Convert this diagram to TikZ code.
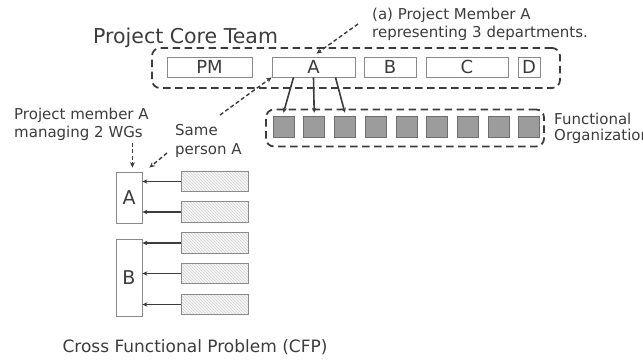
\documentclass[tikz,border=0pt]{standalone}
\usepackage{fontspec}
\setmainfont{DejaVu Sans}
\usetikzlibrary{arrows.meta,patterns,calc}
\definecolor{ink}{HTML}{3C3C3C}
\definecolor{edge}{HTML}{8A8A8A}
\definecolor{unit}{HTML}{9C9C9C}
\begin{document}
\begin{tikzpicture}[x=1pt,y=-1pt,
  every node/.style={text=ink, inner sep=0pt},
  group/.style={draw=ink, line width=1.8pt, dash pattern=on 7.5pt off 4.5pt, rounded corners=8pt},
  member/.style={draw=edge, line width=0.8pt, fill=white, font=\fontsize{18}{18}\selectfont},
  funit/.style={draw=edge!80!black, line width=0.6pt, fill=unit, minimum width=21pt, minimum height=21pt},
  wg/.style={draw=edge, line width=0.8pt, fill=white, minimum width=26pt, font=\fontsize{19}{19}\selectfont},
  task/.style={draw=edge, line width=0.8pt, preaction={fill=gray!7}, pattern=north west lines, pattern color=gray!35, minimum width=67pt, minimum height=20.5pt},
  note/.style={font=\fontsize{15}{18}\selectfont, align=left},
  pointer/.style={draw=ink, line width=1.4pt, dash pattern=on 4pt off 2.5pt, -{Stealth[length=5.5pt,width=5pt]}},
  link/.style={draw=ink, line width=1.6pt, -{Stealth[length=5pt,width=4.5pt]}}]
\useasboundingbox (0,0) rectangle (643,360);

% project core team
\node[anchor=base west, font=\fontsize{20.5}{21}\selectfont] (title) at (93,43) {Project Core Team};
\node[group, minimum width=408pt, minimum height=40pt] (core) at (356,68) {};
\node[member, minimum width=85pt, minimum height=20pt] (PM) at (209.5,67) {PM};
\node[member, minimum width=83pt, minimum height=20pt] (A) at (313.5,67) {A};
\node[member, minimum width=52pt, minimum height=20pt] (B) at (390,67) {B};
\node[member, minimum width=82pt, minimum height=20pt] (C) at (467,67) {C};
\node[member, minimum width=22pt, minimum height=20pt] (D) at (529,67) {D};

% functional organization
\node[group, minimum width=278pt, minimum height=37pt] (func) at (405,128) {};
\foreach \i in {1,...,9} {
  \node[funit] (s\i) at ({283.5+30.7*(\i-1)},126.5) {};
}
\node[note, anchor=west, font=\fontsize{15}{16}\selectfont] (funclabel) at (554,128) {Functional\\Organization};

% annotation for member A
\node[note, anchor=west] (noteA) at (372,24) {(a) Project Member A\\representing 3 departments.};
\coordinate (noteAtip) at (358,24);
\draw[pointer] (noteAtip) -- ($(A.north)+(3,-3)$);

\draw[link] ($(A.south)+(-20,0)$) -- ($(s1.north)+(0,-3)$);
\draw[link] (A.south) -- ($(s2.north)+(0,-3)$);
\draw[link] ($(A.south)+(22,0)$) -- ($(s3.north)+(0,-3)$);

% working groups
\node[note, anchor=west] (mgr) at (14,124) {Project member A\\managing 2 WGs};
\node[note, anchor=west, font=\fontsize{15}{19}\selectfont] (same) at (175,140.5) {Same\\person A};
\coordinate (sametop) at (220,115);
\coordinate (samelow) at (167,153);

\node[wg, minimum height=51pt] (wgA) at (129,197.5) {A};
\node[wg, minimum height=77pt] (wgB) at (129,277.5) {B};

\draw[pointer] (sametop) -- (A.south west);
\draw[pointer] (samelow) -- ($(wgA.north east)+(7,-4)$);
\draw[pointer] ($(wgA.north east)+(-10,-29)$) -- ($(wgA.north east)+(-10,-4)$);

\node[task] (t1) at (214.5,181.5) {};
\node[task] (t2) at (214.5,212) {};
\node[task] (t3) at (214.5,243) {};
\node[task] (t4) at (214.5,273.5) {};
\node[task] (t5) at (214.5,304.5) {};

\draw[link] (t1.west) -- (t1.west -| wgA.east);
\draw[link] (t2.west) -- (t2.west -| wgA.east);
\draw[link] (t3.west) -- (t3.west -| wgB.east);
\draw[link] (t4.west) -- (t4.west -| wgB.east);
\draw[link] (t5.west) -- (t5.west -| wgB.east);

\node[font=\fontsize{17}{18}\selectfont] (cfp) at (195,347) {Cross Functional Problem (CFP)};
\end{tikzpicture}
\end{document}
